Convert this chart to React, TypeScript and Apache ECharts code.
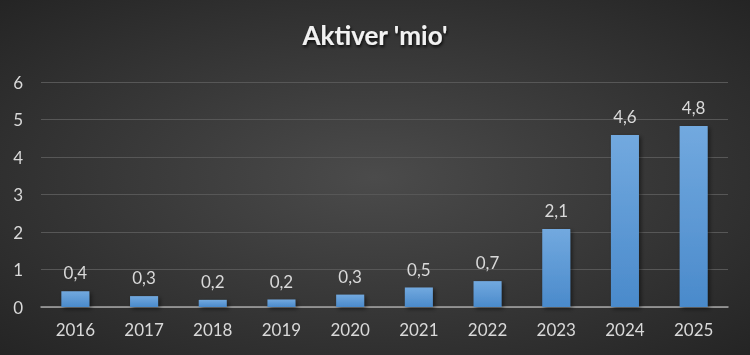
import React, { useEffect, useRef } from "react";
import * as echarts from "echarts";

const categories = ["2016", "2017", "2018", "2019", "2020", "2021", "2022", "2023", "2024", "2025"];
const values = [0.42, 0.29, 0.19, 0.2, 0.33, 0.52, 0.69, 2.08, 4.59, 4.83];
const titleText = "Aktiver 'mio'";

export default function App() {
  const ref = useRef<HTMLDivElement>(null);
  useEffect(() => {
    const chart = echarts.init(ref.current!, null, { renderer: "svg" });
    chart.setOption({
      animation: false,
      backgroundColor: {
        type: "radial", x: 0.5, y: 0.5, r: 0.75,
        colorStops: [
          { offset: 0, color: "#4b4b4b" },
          { offset: 1, color: "#222222" },
        ],
      },
      title: {
        text: titleText,
        left: "center",
        top: 17,
        textStyle: {
          color: "#f2f2f2",
          fontSize: 26,
          fontWeight: "bold",
          fontFamily: "Lato",
          textShadowColor: "rgba(0,0,0,0.8)",
          textShadowBlur: 3,
          textShadowOffsetX: 1,
          textShadowOffsetY: 2,
        },
      },
      grid: { left: 41, right: 22, top: 82, bottom: 48 },
      xAxis: {
        type: "category",
        data: categories,
        axisLine: { lineStyle: { color: "#a6a6a6", width: 1.5 } },
        axisTick: { show: false },
        axisLabel: { color: "#d9d9d9", fontSize: 17, fontFamily: "Lato", margin: 14 },
      },
      yAxis: {
        type: "value",
        min: 0,
        max: 6,
        interval: 1,
        axisLine: { show: false },
        axisTick: { show: false },
        axisLabel: { color: "#d9d9d9", fontSize: 17, fontFamily: "Lato", margin: 18 },
        splitLine: { lineStyle: { color: "#575757", width: 1.2 } },
      },
      series: [
        {
          type: "bar",
          data: values,
          barWidth: 28,
          itemStyle: {
            color: {
              type: "linear", x: 0, y: 0, x2: 0, y2: 1,
              colorStops: [
                { offset: 0, color: "#72a9df" },
                { offset: 1, color: "#4a8acb" },
              ],
            },
            shadowColor: "rgba(0,0,0,0.5)",
            shadowBlur: 4,
            shadowOffsetX: 2,
            shadowOffsetY: 2,
          },
          label: {
            show: true,
            position: "top",
            distance: 10,
            color: "#d9d9d9",
            fontSize: 17,
            fontFamily: "Lato",
            formatter: (p: any) => p.value.toFixed(1).replace(".", ","),
          },
        },
      ],
    });
    return () => chart.dispose();
  }, []);
  return <div ref={ref} style={{ position: "fixed", left: 0, top: 0, width: 750, height: 355 }} />;
}
